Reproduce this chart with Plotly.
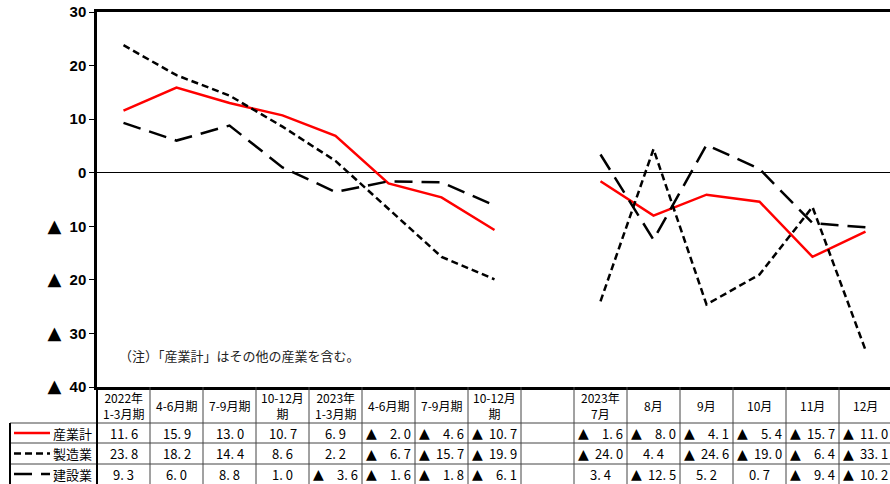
import plotly.graph_objects as go

# 期間ラベル (四半期 + 空列 + 月次)
periodos = ['2022年<br>1-3月期', '4-6月期', '7-9月期', '10-12月<br>期',
            '2023年<br>1-3月期', '4-6月期', '7-9月期', '10-12月<br>期', '',
            '2023年<br>7月', '8月', '9月', '10月', '11月', '12月']

sangyokei = [11.6, 15.9, 13.0, 10.7, 6.9, -2.0, -4.6, -10.7, None,
             -1.6, -8.0, -4.1, -5.4, -15.7, -11.0]
seizogyo = [23.8, 18.2, 14.4, 8.6, 2.2, -6.7, -15.7, -19.9, None,
            -24.0, 4.4, -24.6, -19.0, -6.4, -33.1]
kensetsugyo = [9.3, 6.0, 8.8, 1.0, -3.6, -1.6, -1.8, -6.1, None,
               3.4, -12.5, 5.2, 0.7, -9.4, -10.2]

y_ticks = [30, 20, 10, 0, -10, -20, -30, -40]
tri = '<span style="font-family:DejaVu Sans;font-size:18px">▲</span>\u00a0\u00a0'
y_ticktext = ['30', '20', '10', '0', tri + '10', tri + '20', tri + '30', tri + '40']

series = [
    ('産業計', sangyokei, 'red', 'solid'),
    ('製造業', seizogyo, 'black', '7px,4px'),
    ('建設業', kensetsugyo, 'black', '18px,9px'),
]

W, H = 890, 484
L, R, T, B = 97, 0, 12, 97
plot_w = W - L - R
plot_h = H - T - B
col_px = 53
x_max = -0.5 + plot_w / col_px


def py(p):
    # pixel y -> paper y
    return (H - B - p) / plot_h


def px(p):
    return (p - L) / plot_w


fig = go.Figure()
xs = list(range(len(periodos)))
for nome, vals, cor, dash in series:
    fig.add_trace(go.Scatter(x=xs, y=vals, mode='lines', name=nome,
                             line=dict(color=cor, width=2.5, dash=dash),
                             connectgaps=False, showlegend=False))

jp = 'Noto Sans CJK JP'
anns = []
shapes = []

# header row
for i, lab in enumerate(periodos):
    anns.append(dict(x=i, y=py(405), xref='x', yref='paper', text=lab,
                     showarrow=False, font=dict(size=12, family=jp, color='black'),
                     xanchor='center', yanchor='middle'))

row_y = [433, 453.5, 474]


def fmt(v):
    return f'{abs(v):.1f}'.replace('.', '.\u00a0')


for (nome, vals, cor, dash), ry in zip(series, row_y):
    anns.append(dict(x=px(94), y=py(ry), xref='paper', yref='paper', text=nome,
                     showarrow=False, font=dict(size=13, family=jp, color='black'),
                     xanchor='right', yanchor='middle'))
    shapes.append(dict(type='line', xref='paper', yref='paper',
                       x0=px(14), x1=px(50), y0=py(ry), y1=py(ry),
                       line=dict(color=cor, width=2.5, dash=dash)))
    for i, v in enumerate(vals):
        if v is None:
            continue
        if v < 0:
            anns.append(dict(x=i - 0.5, y=py(ry), xref='x', yref='paper', text='▲',
                             showarrow=False, xshift=2,
                             font=dict(size=14, family='DejaVu Sans', color='black'),
                             xanchor='left', yanchor='middle'))
            anns.append(dict(x=i + 0.45, y=py(ry), xref='x', yref='paper', text=fmt(v),
                             showarrow=False, xshift=1,
                             font=dict(size=13, family=jp, color='black'),
                             xanchor='right', yanchor='middle'))
        else:
            anns.append(dict(x=i, y=py(ry), xref='x', yref='paper', text=fmt(v),
                             showarrow=False,
                             font=dict(size=13, family=jp, color='black'),
                             xanchor='center', yanchor='middle'))

# table grid
for i in range(1, len(periodos) + 1):
    shapes.append(dict(type='line', xref='x', yref='paper',
                       x0=i - 0.5, x1=i - 0.5, y0=py(387), y1=py(490),
                       line=dict(color='#444444', width=1)))
for hy in [423, 443, 464]:
    shapes.append(dict(type='line', xref='paper', yref='paper',
                       x0=px(10), x1=1, y0=py(hy), y1=py(hy),
                       line=dict(color='#444444', width=1)))
shapes.append(dict(type='line', xref='paper', yref='paper',
                   x0=px(97), x1=px(97), y0=py(387), y1=py(490),
                   line=dict(color='black', width=2)))
shapes.append(dict(type='line', xref='paper', yref='paper',
                   x0=px(10), x1=px(10), y0=py(423), y1=py(490),
                   line=dict(color='black', width=2)))

anns.append(dict(x=px(117), y=py(355), xref='paper', yref='paper',
                 text='（注）「産業計」はその他の産業を含む。', showarrow=False,
                 font=dict(size=13, family=jp, color='#222222'),
                 xanchor='left', yanchor='middle'))

fig.update_layout(
    width=W, height=H,
    margin=dict(l=L, r=R, t=T, b=B),
    plot_bgcolor='white', paper_bgcolor='white',
    annotations=anns, shapes=shapes,
)
fig.update_xaxes(range=[-0.5, x_max], showticklabels=False, showgrid=False,
                 zeroline=False, showline=True, linecolor='black', linewidth=2.5,
                 mirror=True, ticks='')
fig.update_yaxes(range=[-40, 30], tickvals=y_ticks, ticktext=y_ticktext,
                 showgrid=False, zeroline=True, zerolinecolor='black', zerolinewidth=1,
                 showline=True, linecolor='black', linewidth=2.5,
                 ticks='outside', ticklen=5, tickcolor='black', tickwidth=1,
                 tickfont=dict(family='Liberation Sans', size=15, color='black', weight='bold'))

# drop the default page margin so the figure fills the window
fig.write_html('out.html', config={'displayModeBar': False},
               post_script="document.body.style.margin='0';")
